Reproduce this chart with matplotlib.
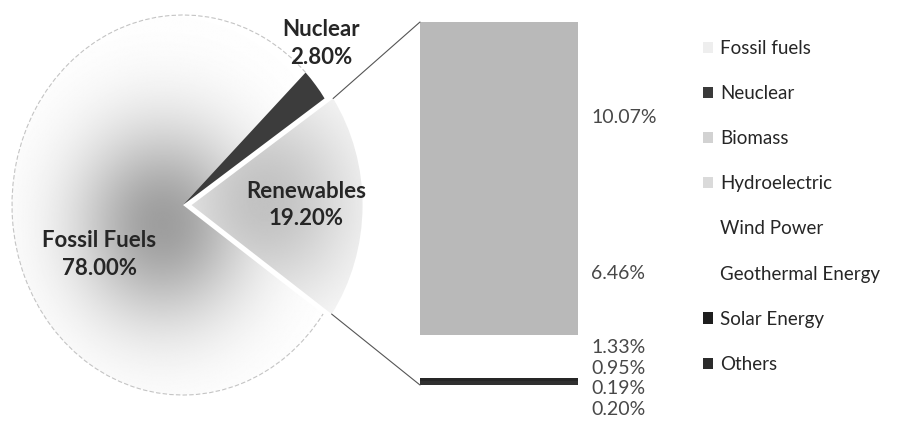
import numpy as np
import matplotlib.pyplot as plt
from matplotlib.patches import Patch, Arc, ConnectionPatch

plt.rcParams['font.family'] = ['Lato', 'DejaVu Sans']

# main pie: share of energy sources
pie_names = ['Renewables', 'Nuclear', 'Fossil Fuels']
pie_values = [19.20, 2.80, 78.00]
pie_explode = [0.05, 0, 0]

# breakdown of renewables, stacked from the top of the bar downward
bar_names = ['Biomass', 'Hydroelectric', 'Wind Power', 'Geothermal Energy',
             'Solar Energy', 'Others']
bar_values = [10.07, 6.46, 1.33, 0.95, 0.19, 0.20]
bar_colors = ['#b9b9b9', '#b9b9b9', 'white', 'white', '#262626', '#303030']

legend_labels = ['Fossil fuels', 'Neuclear', 'Biomass', 'Hydroelectric',
                 'Wind Power', 'Geothermal Energy', 'Solar Energy', 'Others']
legend_colors = ['#eeeeee', '#3a3a3a', '#d2d2d2', '#dadada',
                 'white', 'white', '#1e1e1e', '#2c2c2c']

W, H = 897, 430


def px_box(left, top, w, h):
    return [left / W, 1 - (top + h) / H, w / W, h / H]


fig = plt.figure(figsize=(W / 100, H / 100), dpi=100)

# ---- pie ----
cx, cy, rx, ry = 183, 205, 171, 190
xl, yl = (-1.1, 1.3), (-1.1, 1.1)
ax_pie = fig.add_axes(px_box(cx + xl[0] * rx, cy - yl[1] * ry,
                             (xl[1] - xl[0]) * rx, (yl[1] - yl[0]) * ry))
wedges, _ = ax_pie.pie(pie_values, explode=pie_explode, startangle=-35,
                       colors=['none', '#3c3c3c', 'none'],
                       wedgeprops=dict(linewidth=0))

# soft radial shading inside the renewables and fossil wedges
xs = np.linspace(xl[0], xl[1], 500)
ys = np.linspace(yl[0], yl[1], 500)
X, Y = np.meshgrid(xs, ys)
shades = {
    0: 1 - 0.24 * np.exp(-((X - 0.48) ** 2 + (Y - 0.02) ** 2) / 0.30),
    2: 1 - 0.38 * np.exp(-((X + 0.12) ** 2 + (Y + 0.10) ** 2) / 0.26),
}
for i, z in shades.items():
    im = ax_pie.imshow(z, cmap='gray', vmin=0, vmax=1, origin='lower',
                       extent=(xl[0], xl[1], yl[0], yl[1]), aspect='auto',
                       interpolation='bilinear', zorder=0)
    im.set_clip_path(wedges[i])

fw = wedges[2]
ax_pie.add_patch(Arc(fw.center, 2 * fw.r, 2 * fw.r, theta1=fw.theta1, theta2=fw.theta2,
                     color='#c4c4c4', lw=0.8, ls=(0, (4, 2))))

ax_pie.set_aspect('auto')
ax_pie.set_xlim(*xl)
ax_pie.set_ylim(*yl)
ax_pie.axis('off')

pie_label_pos = [(0.72, 0.0), (0.81, 0.85), (-0.49, -0.26)]
for name, v, (x, y) in zip(pie_names, pie_values, pie_label_pos):
    ax_pie.text(x, y, f'{name}\n{v:.2f}%', ha='center', va='center',
                fontsize=16, fontweight='bold', color='#262626', linespacing=1.4)

# ---- bar of renewables ----
total = sum(bar_values)
ax_bar = fig.add_axes(px_box(420, 22, 158, 363))
bottoms = np.concatenate([[0], np.cumsum(bar_values)[:-1]])
ax_bar.bar(0.5, bar_values, bottom=bottoms, width=1, color=bar_colors, linewidth=0)
ax_bar.set_xlim(0, 1)
ax_bar.set_ylim(total, 0)
ax_bar.axis('off')

# value labels at segment centres, pushed down where they would overlap
label_y = []
for b, v in zip(bottoms, bar_values):
    y = b + v / 2
    if label_y:
        y = max(y, label_y[-1] + 1.07)
    label_y.append(y)
for v, y in zip(bar_values, label_y):
    ax_bar.text(1.085, y, f'{v:.2f}%', transform=ax_bar.get_yaxis_transform(),
                ha='left', va='center', fontsize=14, color='#484848', clip_on=False)

# connector lines from the renewables wedge to the bar
rw = wedges[0]
for theta, yb in [(rw.theta2, 0), (rw.theta1, total)]:
    t = np.deg2rad(theta)
    pt = (rw.center[0] + rw.r * np.cos(t), rw.center[1] + rw.r * np.sin(t))
    con = ConnectionPatch(xyA=pt, coordsA=ax_pie.transData, xyB=(0, yb),
                          coordsB=ax_bar.transData, color='#555555', lw=0.8)
    fig.add_artist(con)

# ---- legend ----
handles = [Patch(facecolor=c, edgecolor='none') for c in legend_colors]
fig.legend(handles, legend_labels, loc='upper left', bbox_to_anchor=(703 / W, 1 - 40 / H),
           frameon=False, fontsize=13.5, handlelength=0.55, handleheight=0.55,
           handletextpad=0.35, labelspacing=1.5, borderaxespad=0, borderpad=0,
           labelcolor='#262626')

fig.savefig('out.png', dpi=100)
